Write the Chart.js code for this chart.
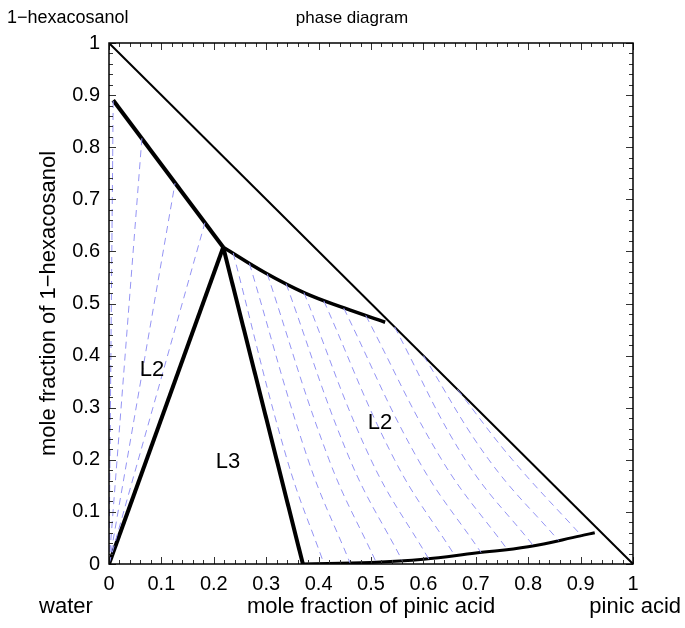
<!DOCTYPE html>
<html>
<head>
<meta charset="utf-8">
<script src="https://cdn.jsdelivr.net/npm/chart.js@4/dist/chart.umd.min.js"></script>
<style>
  html, body { margin: 0; padding: 0; background: #fff; }
  #wrap { width: 685px; height: 628px; }
</style>
</head>
<body>
<div id="wrap"><canvas id="phaseChart" width="685" height="628"></canvas></div>
<script>
// == Data ==
// phase boundaries (x = pinic acid, y = 1-hexacosanol)
const edgeX = [0, 1];
const edgeY = [1, 0];
const upperLeftX = [0.008, 0.218];
const upperLeftY = [0.89, 0.608];
const upperRightX = [0.218, 0.298, 0.374, 0.45, 0.527];
const upperRightY = [0.608, 0.559, 0.520, 0.491, 0.464];
const l3LeftX = [0, 0.218];
const l3LeftY = [0, 0.608];
const l3RightX = [0.218, 0.37];
const l3RightY = [0.608, 0];
const lowerX = [0.37, 0.5, 0.6, 0.7, 0.8, 0.9, 0.927];
const lowerY = [0, 0.003, 0.009, 0.021, 0.033, 0.054, 0.06];

// tie lines, left L2 region (all start at the water corner)
const tieLeftTopX = [0.008, 0.063, 0.126, 0.183];
const tieLeftTopY = [0.89, 0.82, 0.731, 0.655];

// tie lines, right L2 region: top end, a point at y = 0.2, bottom end
const tieTopX = [0.237, 0.268, 0.302, 0.338, 0.372, 0.41, 0.448, 0.49, 0.545, 0.6, 0.665];
const tieTopY = [0.597, 0.577, 0.557, 0.538, 0.521, 0.505, 0.491, 0.477, 0.455, 0.4, 0.335];
const tieMidX = [0.34, 0.38, 0.42, 0.46, 0.5, 0.545, 0.59, 0.635, 0.68, 0.725, 0.77];
const tieMidY = [0.2, 0.2, 0.2, 0.2, 0.2, 0.2, 0.2, 0.2, 0.2, 0.2, 0.2];
const tieBotX = [0.41, 0.46, 0.51, 0.56, 0.61, 0.66, 0.71, 0.76, 0.81, 0.858, 0.902];
const tieBotY = [0.001, 0.002, 0.003, 0.006, 0.01, 0.016, 0.022, 0.028, 0.035, 0.045, 0.054];

const regionLabels = ['L2', 'L3', 'L2'];
const regionX = [0.082, 0.227, 0.517];
const regionY = [0.372, 0.196, 0.27];

// == Utils ==
const FONT = '"Liberation Sans", Arial, Helvetica, sans-serif';
const TIE_COLOR = '#9494f4';

function pts(xs, ys) {
    return xs.map((x, i) => ({ x, y: ys[i] }));
}

function lineSet(data, width, extra) {
    return Object.assign({
        data,
        showLine: true,
        borderColor: '#000',
        borderWidth: width,
        pointRadius: 0,
        fill: false,
        tension: 0,
    }, extra || {});
}

function tieSet(data, tension) {
    return lineSet(data, 1, { borderColor: TIE_COLOR, borderDash: [7, 5], tension: tension || 0 });
}

function tickLabel(value) {
    const v = Math.round(value * 100);
    if (v % 10 !== 0) return '';
    return String(v / 100);
}

const datasets = [];
tieLeftTopX.forEach((x, i) => datasets.push(tieSet([{ x: 0, y: 0 }, { x, y: tieLeftTopY[i] }])));
tieTopX.forEach((x, i) => datasets.push(tieSet([
    { x, y: tieTopY[i] },
    { x: tieMidX[i], y: tieMidY[i] },
    { x: tieBotX[i], y: tieBotY[i] }
], 0.4)));
datasets.push(lineSet(pts(edgeX, edgeY), 2));
datasets.push(lineSet(pts(upperLeftX, upperLeftY), 4));
datasets.push(lineSet(pts(upperRightX, upperRightY), 3.5, { tension: 0.4 }));
datasets.push(lineSet(pts(l3LeftX, l3LeftY), 4));
datasets.push(lineSet(pts(l3RightX, l3RightY), 4));
datasets.push(lineSet(pts(lowerX, lowerY), 3, { tension: 0.4 }));

// == Plugins ==
const frameAndTicks = {
    id: 'frameAndTicks',
    afterDatasetsDraw(chart) {
        const { ctx, chartArea: a, scales } = chart;
        ctx.save();
        ctx.strokeStyle = '#333';
        ctx.lineWidth = 1;
        scales.x.ticks.forEach(t => {
            const px = Math.round(scales.x.getPixelForValue(t.value)) + 0.5;
            const len = tickLabel(t.value) ? 7 : 4;
            ctx.beginPath();
            ctx.moveTo(px, a.bottom); ctx.lineTo(px, a.bottom - len);
            ctx.moveTo(px, a.top); ctx.lineTo(px, a.top + len);
            ctx.stroke();
        });
        scales.y.ticks.forEach(t => {
            const py = Math.round(scales.y.getPixelForValue(t.value)) + 0.5;
            const len = tickLabel(t.value) ? 7 : 4;
            ctx.beginPath();
            ctx.moveTo(a.left, py); ctx.lineTo(a.left + len, py);
            ctx.moveTo(a.right, py); ctx.lineTo(a.right - len, py);
            ctx.stroke();
        });
        ctx.strokeStyle = '#000';
        ctx.lineWidth = 1.5;
        ctx.strokeRect(a.left, a.top, a.right - a.left, a.bottom - a.top);

        // region labels
        ctx.fillStyle = '#000';
        ctx.font = '22px ' + FONT;
        ctx.textAlign = 'center';
        ctx.textBaseline = 'middle';
        regionLabels.forEach((txt, i) => {
            ctx.fillText(txt, scales.x.getPixelForValue(regionX[i]), scales.y.getPixelForValue(regionY[i]));
        });

        // corner and axis texts
        ctx.font = '18px ' + FONT;
        ctx.textAlign = 'left';
        ctx.fillText('1\u2212hexacosanol', 7, 18);
        ctx.font = '17px ' + FONT;
        ctx.textAlign = 'center';
        ctx.fillText('phase diagram', 352, 18);
        ctx.font = '22px ' + FONT;
        ctx.fillText('water', 66, 607);
        ctx.textAlign = 'right';
        ctx.fillText('pinic acid', 681, 607);
        ctx.textAlign = 'center';
        ctx.fillText('mole fraction of pinic acid', (a.left + a.right) / 2, 607);
        ctx.translate(49, (a.top + a.bottom) / 2);
        ctx.rotate(-Math.PI / 2);
        ctx.fillText('mole fraction of 1\u2212hexacosanol', 0, 0);
        ctx.restore();
    }
};

// == Chart ==
new Chart(document.getElementById('phaseChart'), {
    type: 'scatter',
    data: { datasets },
    plugins: [frameAndTicks],
    options: {
        responsive: false,
        animation: false,
        devicePixelRatio: 1,
        layout: { padding: { top: 43, right: 52, left: 0, bottom: 0 } },
        plugins: { legend: { display: false }, tooltip: { enabled: false } },
        scales: {
            x: {
                type: 'linear', min: 0, max: 1,
                grid: { display: false, drawTicks: false },
                border: { display: false },
                afterFit: s => { s.height = 64; },
                ticks: {
                    stepSize: 0.02, autoSkip: false, maxRotation: 0, padding: 8,
                    color: '#000', font: { family: FONT, size: 20 },
                    callback: tickLabel
                }
            },
            y: {
                type: 'linear', min: 0, max: 1,
                grid: { display: false, drawTicks: false },
                border: { display: false },
                afterFit: s => { s.width = 109; },
                ticks: {
                    stepSize: 0.02, autoSkip: false, padding: 9,
                    color: '#000', font: { family: FONT, size: 20 },
                    callback: tickLabel
                }
            }
        }
    }
});
</script>
</body>
</html>
